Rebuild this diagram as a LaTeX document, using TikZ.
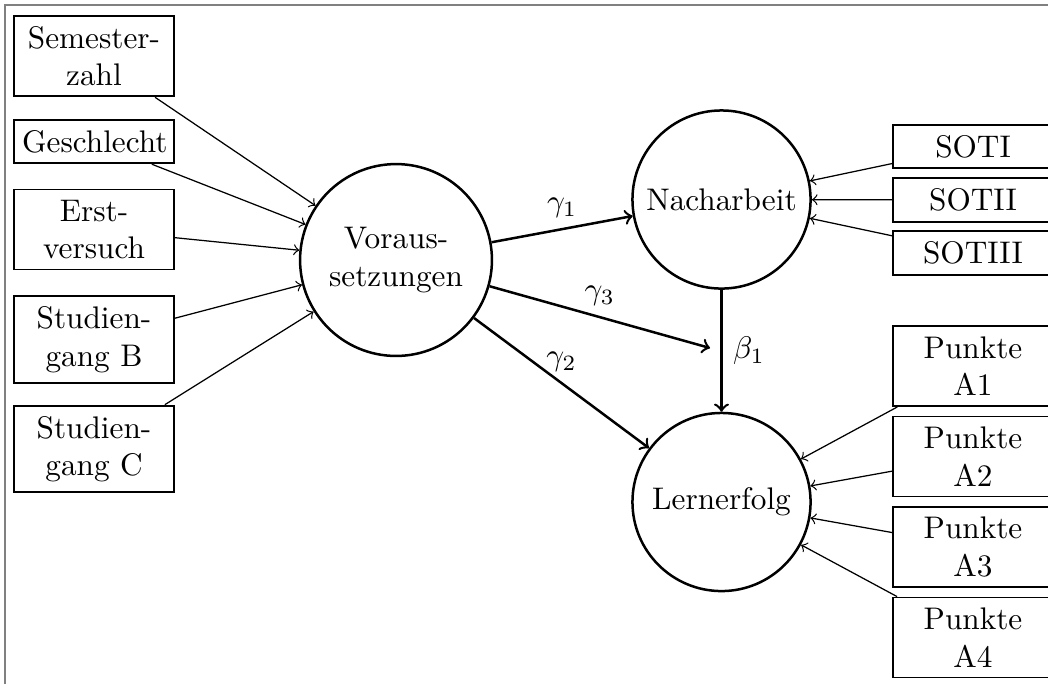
\documentclass[tikz,border=0pt]{standalone}
\begin{document}
\begin{tikzpicture}[x=0.32pt,y=-0.32pt,
  box/.style={draw,semithick,text width=46pt,align=center,inner xsep=2.5pt,inner ysep=3.33pt},
  lat/.style={circle,draw,thick,align=center,inner sep=0pt},
  indarrow/.style={->,thin},
  patharrow/.style={->,thick}]
\useasboundingbox (0,0) rectangle (1048,684);
\draw[gray] (5,684) -- (5,5) -- (1048,5);
% left indicators
\node[box] (sem) at (94,56) {Semester-\\zahl};
\node[box] (ges) at (94,141.5) {Geschlecht};
\node[box] (erst) at (94,229.5) {Erst-\\versuch};
\node[box] (stb) at (94,339.5) {Studien-\\gang B};
\node[box] (stc) at (94,449) {Studien-\\gang C};
% latent variables
\node[lat,minimum size=61.4pt] (vor) at (396,260) {Voraus-\\setzungen};
\node[lat,minimum size=57pt] (nach) at (721.5,199.5) {Nacharbeit};
\node[lat,minimum size=57pt] (lern) at (721.5,502) {Lernerfolg};
% right indicators
\node[box] (s1) at (973,146.5) {SOTI};
\node[box] (s2) at (973,200) {SOTII};
\node[box] (s3) at (973,253) {SOTIII};
\node[box] (p1) at (973,366) {Punkte\\A1};
\node[box] (p2) at (973,456.5) {Punkte\\A2};
\node[box] (p3) at (973,547) {Punkte\\A3};
\node[box] (p4) at (973,637.5) {Punkte\\A4};
\coordinate (g3) at (710,348);
% indicator arrows
\foreach \n in {sem,ges,erst,stb,stc} \draw[indarrow] (\n) -- (vor);
\foreach \n in {s1,s2,s3} \draw[indarrow] (\n) -- (nach);
\foreach \n in {p1,p2,p3,p4} \draw[indarrow] (\n) -- (lern);
% structural paths
\draw[patharrow] (vor) -- node[above] {$\gamma_1$} (nach);
\draw[patharrow] (vor) -- node[above] {$\gamma_2$} (lern);
\draw[patharrow] (vor) -- node[above] {$\gamma_3$} (g3);
\draw[patharrow] (nach) -- node[right] {$\beta_1$} (lern);
\end{tikzpicture}
\end{document}
